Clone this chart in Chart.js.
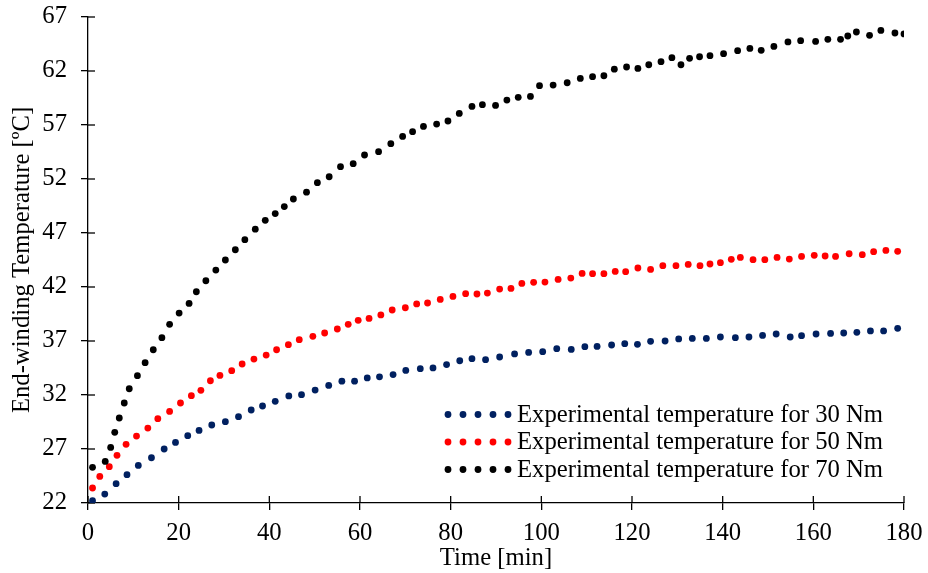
<!DOCTYPE html>
<html>
<head>
<meta charset="utf-8">
<script src="https://cdn.jsdelivr.net/npm/chart.js@4.4.1/dist/chart.umd.min.js"></script>
<style>
html, body { margin: 0; padding: 0; background: #fff; }
</style>
</head>
<body>
<canvas id="chart" width="928" height="573"></canvas>
<script>
// ========== DATA ==========
const seriesLabels = [
    "Experimental temperature for 30 Nm",
    "Experimental temperature for 50 Nm",
    "Experimental temperature for 70 Nm"
];
const seriesColors = ["#002060", "#FF0000", "#000000"];

const time30 = [1.0, 3.7, 6.2, 8.6, 11.1, 14.0, 16.8, 19.3, 22.0, 24.5, 27.3, 30.3, 33.2, 36.0, 38.5, 41.3, 44.3, 47.1, 50.1, 53.1,
    56.0, 58.8, 61.6, 64.3, 67.3, 70.1, 73.3, 76.1, 79.1, 82.0, 84.7, 87.7, 90.8, 94.1, 97.2, 100.3, 103.4, 106.6, 109.6, 112.3,
    115.5, 118.4, 121.2, 124.1, 127.3, 130.3, 133.3, 136.4, 139.5, 142.8, 145.8, 148.8, 151.8, 154.9, 157.4, 160.6, 163.8, 166.7,
    169.6, 172.6, 175.5, 178.6];
const temp30 = [22.21, 22.83, 23.79, 24.62, 25.48, 26.19, 27.00, 27.61, 28.23, 28.72, 29.22, 29.53, 29.99, 30.61, 30.98, 31.41,
    31.91, 32.03, 32.46, 32.89, 33.28, 33.28, 33.58, 33.68, 33.89, 34.28, 34.44, 34.51, 34.82, 35.17, 35.36, 35.27, 35.52, 35.80,
    35.94, 36.01, 36.29, 36.22, 36.47, 36.50, 36.63, 36.75, 36.69, 36.97, 37.00, 37.19, 37.24, 37.24, 37.37, 37.31, 37.37, 37.52,
    37.65, 37.37, 37.49, 37.65, 37.70, 37.74, 37.80, 37.93, 37.93, 38.17];

const time50 = [1.0, 2.6, 4.7, 6.4, 8.4, 10.7, 13.2, 15.4, 18.0, 20.4, 22.8, 24.9, 27.0, 29.1, 31.7, 34.0, 36.6, 39.3, 41.6, 44.2,
    46.6, 49.6, 52.2, 55.0, 57.4, 59.6, 62.0, 64.6, 67.1, 70.0, 72.5, 74.9, 77.7, 80.5, 83.3, 85.8, 88.1, 90.8, 93.3, 95.7, 98.3,
    100.8, 103.7, 106.5, 109.0, 111.3, 113.8, 116.3, 118.6, 121.3, 124.1, 126.8, 129.7, 132.4, 135.0, 137.2, 139.5, 141.9, 143.9,
    146.7, 149.3, 152.0, 154.7, 157.4, 160.2, 162.6, 164.9, 167.9, 170.8, 173.3, 176.0, 178.6];
const temp50 = [23.39, 24.46, 25.36, 26.41, 27.43, 28.20, 28.94, 29.81, 30.48, 31.26, 31.94, 32.43, 33.32, 33.81, 34.25, 34.87,
    35.33, 35.70, 36.19, 36.66, 37.12, 37.43, 37.74, 38.11, 38.54, 38.91, 39.09, 39.41, 39.87, 40.08, 40.43, 40.52, 40.85, 41.13,
    41.38, 41.35, 41.44, 41.81, 41.87, 42.33, 42.43, 42.46, 42.70, 42.83, 43.26, 43.23, 43.23, 43.44, 43.42, 43.76, 43.63, 43.97,
    43.97, 44.09, 43.97, 44.13, 44.25, 44.56, 44.74, 44.53, 44.53, 44.74, 44.59, 44.83, 44.93, 44.87, 44.83, 45.08, 44.99, 45.27,
    45.39, 45.30];

const time70 = [1.0, 3.8, 5.0, 5.9, 6.9, 8.0, 9.1, 10.9, 12.6, 14.4, 16.3, 18.0, 20.1, 22.3, 23.9, 26.0, 28.2, 30.3, 32.5, 34.6,
    36.9, 39.1, 41.3, 43.3, 45.3, 48.2, 50.6, 53.2, 55.7, 58.5, 61.0, 64.1, 66.8, 69.4, 71.6, 74.0, 76.9, 79.4, 81.9, 84.7, 87.0,
    89.9, 92.4, 94.9, 97.6, 99.6, 102.6, 105.7, 108.6, 111.3, 113.8, 116.1, 118.8, 121.3, 123.7, 126.4, 128.8, 130.8, 132.7, 134.9,
    137.2, 140.2, 143.3, 146.0, 148.5, 151.3, 154.4, 157.2, 160.5, 163.2, 166.0, 167.6, 169.5, 172.4, 174.9, 178.0, 180.0];
const temp70 = [25.30, 25.85, 27.15, 28.54, 29.87, 31.26, 32.58, 33.79, 34.99, 36.19, 37.31, 38.54, 39.59, 40.48, 41.56, 42.58,
    43.57, 44.50, 45.45, 46.38, 47.35, 48.17, 48.80, 49.45, 50.15, 50.78, 51.66, 52.21, 53.14, 53.42, 54.22, 54.53, 55.27, 55.94,
    56.38, 56.87, 57.09, 57.37, 58.07, 58.72, 58.88, 58.81, 59.31, 59.56, 59.65, 60.64, 60.70, 60.91, 61.31, 61.47, 61.56, 62.17,
    62.37, 62.24, 62.58, 62.86, 63.23, 62.58, 63.17, 63.32, 63.42, 63.60, 63.88, 64.09, 63.91, 64.28, 64.69, 64.81, 64.74, 64.93,
    64.93, 65.24, 65.61, 65.30, 65.76, 65.52, 65.43];

const xMin = 0, xMax = 180, xStep = 20;
const yMin = 22, yMax = 67, yStep = 5;

// ========== HELPERS ==========
const FONT = "'Liberation Serif', 'Times New Roman', serif";
const FONT_SIZE = 24.7;

function toPoints(times, temps) {
    return times.map((t, i) => ({ x: t, y: temps[i] }));
}

// ticks in Excel cross the axis, chart.js only draws the outer half
const innerTicks = {
    id: "innerTicks",
    beforeDatasetsDraw(chart) {
        const { ctx, chartArea, scales } = chart;
        ctx.save();
        ctx.strokeStyle = "#000";
        ctx.lineWidth = 1.3;
        scales.x.ticks.forEach(t => {
            const x = scales.x.getPixelForValue(t.value);
            ctx.beginPath();
            ctx.moveTo(x, chartArea.bottom);
            ctx.lineTo(x, chartArea.bottom - 7);
            ctx.stroke();
        });
        scales.y.ticks.forEach(t => {
            const y = scales.y.getPixelForValue(t.value);
            ctx.beginPath();
            ctx.moveTo(chartArea.left, y);
            ctx.lineTo(chartArea.left + 7, y);
            ctx.stroke();
        });
        ctx.restore();
    }
};

// legend with 5 round dots per entry
const dotLegend = {
    id: "dotLegend",
    afterDraw(chart) {
        const ctx = chart.ctx;
        ctx.save();
        chart.data.datasets.forEach((ds, i) => {
            const y = 414.5 + i * 27.5;
            ctx.fillStyle = ds.backgroundColor;
            for (let k = 0; k < 5; k++) {
                ctx.beginPath();
                ctx.arc(448 + k * 15, y, 3.4, 0, Math.PI * 2);
                ctx.fill();
            }
            ctx.fillStyle = "#000";
            ctx.font = FONT_SIZE + "px " + FONT;
            ctx.textBaseline = "middle";
            ctx.fillText(ds.label, 517, y + 1);
        });
        ctx.restore();
    }
};

// ========== CHART ==========
Chart.defaults.font.family = FONT;
Chart.defaults.font.size = FONT_SIZE;
Chart.defaults.color = "#000";

const datasets = [
    toPoints(time30, temp30),
    toPoints(time50, temp50),
    toPoints(time70, temp70)
].map((pts, i) => ({
    label: seriesLabels[i],
    data: pts,
    backgroundColor: seriesColors[i],
    borderColor: seriesColors[i],
    pointRadius: 3.4,
    pointBorderWidth: 0,
    showLine: false,
    order: 3 - i
}));

new Chart(document.getElementById("chart"), {
    type: "scatter",
    data: { datasets },
    options: {
        responsive: false,
        animation: false,
        layout: { padding: { top: 17, right: 24, left: 0, bottom: 0 } },
        plugins: {
            legend: { display: false },
            tooltip: { enabled: false }
        },
        scales: {
            x: {
                min: xMin,
                max: xMax,
                ticks: { stepSize: xStep, padding: 9, maxRotation: 0 },
                grid: { drawOnChartArea: false, tickLength: 7, color: "#000", lineWidth: 1.3 },
                border: { color: "#000", width: 1.3 },
                title: { display: true, text: "Time [min]", padding: { top: 0, bottom: 0 } },
                afterFit(scale) {
                    scale.height = 70;
                    // label overhang is covered by the layout padding
                    scale.paddingLeft = 0;
                    scale.paddingRight = 0;
                }
            },
            y: {
                min: yMin,
                max: yMax,
                ticks: { stepSize: yStep, padding: 14 },
                grid: { drawOnChartArea: false, tickLength: 7, color: "#000", lineWidth: 1.3 },
                border: { color: "#000", width: 1.3 },
                title: { display: true, text: "End-winding Temperature [ºC]", padding: { top: 8, bottom: 0 } },
                afterFit(scale) {
                    scale.width = 88;
                    scale.paddingTop = 0;
                    scale.paddingBottom = 0;
                }
            }
        }
    },
    plugins: [innerTicks, dotLegend]
});
</script>
</body>
</html>
